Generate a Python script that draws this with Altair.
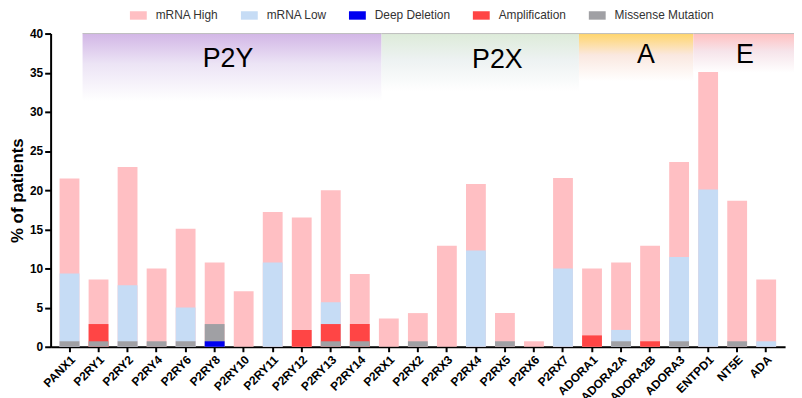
import altair as alt
import pandas as pd

genes = ["PANX1", "P2RY1", "P2RY2", "P2RY4", "P2RY6", "P2RY8", "P2RY10", "P2RY11",
         "P2RY12", "P2RY13", "P2RY14", "P2RX1", "P2RX2", "P2RX3", "P2RX4", "P2RX5",
         "P2RX6", "P2RX7", "ADORA1", "ADORA2A", "ADORA2B", "ADORA3", "ENTPD1", "NT5E", "ADA"]

# cumulative heights (each series drawn from 0, overlapping)
mrna_high = [21.5, 8.6, 22.95, 10.0, 15.06, 10.76, 7.1, 17.2, 16.5, 20.0, 9.3, 3.6,
             4.3, 12.9, 20.8, 4.3, 0.7, 21.56, 10.0, 10.76, 12.9, 23.6, 35.1, 18.65, 8.6]
mrna_low = [9.37, 0, 7.85, 0, 5.0, 0, 0, 10.76, 0, 5.7, 0, 0,
            0, 0, 12.3, 0, 0, 10.0, 0, 2.15, 0, 11.47, 20.1, 0, 0.7]
deep_deletion = [0, 0, 0, 0, 0, 0.7, 0, 0, 0, 0, 0, 0,
                 0, 0, 0, 0, 0, 0, 0, 0, 0, 0, 0, 0, 0]
amplification = [0, 2.9, 0, 0, 0, 0, 0, 0, 2.15, 2.9, 2.9, 0,
                 0, 0, 0, 0, 0, 0, 1.45, 0, 0.7, 0, 0, 0, 0]
missense = [0.7, 0.7, 0.7, 0.7, 0.7, 2.9, 0, 0, 0, 0.7, 0.7, 0,
            0.7, 0, 0, 0.7, 0, 0, 0, 0.7, 0, 0.7, 0, 0.7, 0]

series_names = ["mRNA High", "mRNA Low", "Deep Deletion", "Amplification", "Missense Mutation"]
series_colors = ["#FFBFC3", "#C6DCF5", "#0000F0", "#FF4545", "#A0A0A4"]
draw_order = ["mRNA High", "mRNA Low", "Amplification", "Missense Mutation", "Deep Deletion"]
series_values = {"mRNA High": mrna_high, "mRNA Low": mrna_low, "Deep Deletion": deep_deletion,
                 "Amplification": amplification, "Missense Mutation": missense}

rows = []
for s in draw_order:
    for g, v in zip(genes, series_values[s]):
        if v > 0:
            rows.append({"gene": g, "series": s, "value": v})
bars_df = pd.DataFrame(rows)

# family bands (positions in category-index units)
band_names = ["P2Y", "P2X", "A", "E"]
band_start = [0.45, 10.75, 17.55, 21.49]
band_end = [10.75, 17.55, 21.49, 25.0]
band_top = [40, 40, 40, 40]
band_bottom = [31.4, 32.6, 33.9, 35.0]
label_pos = [5.46, 14.74, 19.86, 23.27]
label_level = [36.75, 36.6, 37.25, 37.3]
band_top_color = ["#D2B6E6", "#DDEBD9", "#FFD56B", "#FFC0C0"]
band_mid_color = ["#ECE4F5", "#EDF2F2", "#FAE8E0", "#F6E4EA"]

bands_df = pd.DataFrame({"name": band_names, "start": band_start, "end": band_end,
                         "top": band_top, "bottom": band_bottom,
                         "lx": label_pos, "ly": label_level})

XDOM = [-0.6505, 24.651]
FONT = "Liberation Sans"
yscale = alt.Scale(domain=[0, 40], nice=False)
xq = alt.Scale(domain=XDOM, nice=False, zero=False)
yaxis = alt.Axis(values=list(range(0, 41, 5)), title="% of patients", grid=False,
                 titleFontSize=17, titleFont=FONT, titleFontWeight="bold",
                 titleColor="#000000", labelFontSize=12, labelFont=FONT,
                 labelFontWeight="bold", labelColor="#000000", tickSize=6,
                 labelPadding=2, titlePadding=3)

layers = []
for i, name in enumerate(band_names):
    grad = {"gradient": "linear", "x1": 0, "y1": 0, "x2": 0, "y2": 1,
            "stops": [{"offset": 0, "color": band_top_color[i]},
                      {"offset": 0.45, "color": band_mid_color[i]},
                      {"offset": 1, "color": "#FFFFFF"}]}
    layers.append(
        alt.Chart(bands_df).transform_filter(alt.datum.name == name)
        .mark_rect(fill=grad)
        .encode(x=alt.X("start:Q", scale=xq, axis=None), x2="end:Q",
                y=alt.Y("top:Q", scale=yscale, axis=yaxis, title="% of patients"),
                y2="bottom:Q")
    )

top_line = alt.Chart(bands_df).mark_rule(color="#BDBDBD", strokeWidth=1).encode(
    x=alt.X("start:Q", scale=xq, axis=None), x2="end:Q",
    y=alt.Y("top:Q", scale=yscale, axis=yaxis, title="% of patients"))
layers.append(top_line)

band_text = alt.Chart(bands_df).mark_text(fontSize=27, font=FONT, color="#000000",
                                          baseline="middle", align="center").encode(
    x=alt.X("lx:Q", scale=xq, axis=None),
    y=alt.Y("ly:Q", scale=yscale, axis=yaxis, title="% of patients"),
    text="name:N")
layers.append(band_text)

bars = alt.Chart(bars_df).mark_bar(opacity=1).encode(
    x=alt.X("gene:N", sort=genes,
            scale=alt.Scale(paddingInner=0.317, paddingOuter=0.309),
            axis=alt.Axis(title=None, labelAngle=-45, labelFontSize=12, labelFont=FONT,
                          labelFontWeight="bold", labelColor="#000000", tickSize=5,
                          labelPadding=2)),
    y=alt.Y("value:Q", stack=None, scale=yscale, axis=yaxis, title="% of patients"),
    color=alt.Color("series:N",
                    scale=alt.Scale(domain=series_names, range=series_colors),
                    legend=alt.Legend(title=None, orient="none", legendX=80, legendY=-27,
                                      direction="horizontal",
                                      symbolType="M-1,-0.5H1V0.5H-1Z", symbolSize=289,
                                      symbolStrokeWidth=0, symbolOpacity=1,
                                      labelFontSize=12, labelFont=FONT, labelColor="#333333",
                                      columnPadding=22, labelOffset=9))
)
layers.append(bars)

chart = alt.layer(*layers).resolve_scale(x="independent").properties(
    width=741, height=316,
    autosize=alt.AutoSizeParams(type="none"),
    padding={"left": 43, "top": 24, "right": 9, "bottom": 60},
    background="white"
).configure_view(stroke=None).configure_axis(
    domainColor="#000000", domainWidth=2, tickColor="#000000", tickWidth=2
)

chart.save("out.html", embed_options={"renderer": "svg", "actions": False})
